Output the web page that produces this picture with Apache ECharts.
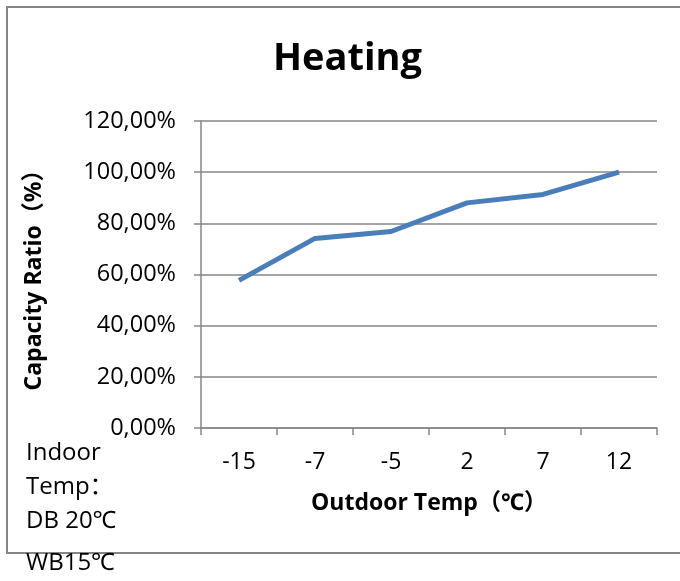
<!DOCTYPE html>
<html>
<head>
<meta charset="utf-8">
<script src="https://cdn.jsdelivr.net/npm/echarts@6/dist/echarts.min.js"></script>
<style>
  html, body { margin: 0; padding: 0; background: #fff; }
  #chart { width: 680px; height: 581px; }
</style>
</head>
<body>
<div id="chart"></div>
<script>
var categories = ['-15', '-7', '-5', '2', '7', '12'];
var capacityRatio = [0.577, 0.741, 0.768, 0.880, 0.913, 1.00];
var noteLines = ['Indoor', 'Temp\uFF1A', 'DB 20\u2103', 'WB15\u2103'];

var font = '"Open Sans", "Noto Sans", "Noto Sans CJK SC", sans-serif';
var grey = '#868686';
var ink = '#000';

var chart = echarts.init(document.getElementById('chart'), null, { renderer: 'canvas' });

function pctLabel(v) {
  return (v * 100).toFixed(2).replace('.', ',') + '%';
}

// left-hand note, each line placed by hand like the original text box
var noteY = [441, 475, 509, 551];
var graphics = [{
  type: 'rect',
  z: -1,
  shape: { x: 7, y: 7, width: 700, height: 546 },
  style: { fill: 'none', stroke: grey, lineWidth: 2 }
}];
noteLines.forEach(function(t, i) {
  graphics.push({
    type: 'text',
    left: 26,
    top: noteY[i],
    style: { text: t, font: '24px ' + font, fill: ink }
  });
});

chart.setOption({
  animation: false,
  textStyle: { fontFamily: font },
  title: {
    text: 'Heating',
    left: 268,
    top: 35,
    textStyle: { fontSize: 38, fontWeight: 'bold', color: ink, fontFamily: font }
  },
  grid: { left: 201, right: 23, top: 121, bottom: 153 },
  xAxis: {
    type: 'category',
    data: categories,
    boundaryGap: true,
    name: 'Outdoor Temp\uFF08\u2103\uFF09',
    nameLocation: 'middle',
    nameGap: 64,
    nameTextStyle: { fontSize: 23, fontWeight: 'bold', color: ink },
    axisLine: { lineStyle: { color: grey, width: 1.5 } },
    axisTick: { show: true, length: 7, lineStyle: { color: grey, width: 1.5 } },
    axisLabel: { fontSize: 23, color: ink, margin: 23 }
  },
  yAxis: {
    type: 'value',
    min: 0,
    max: 1.2,
    interval: 0.2,
    name: 'Capacity Ratio\uFF08%\uFF09',
    nameLocation: 'middle',
    nameGap: 155,
    nameTextStyle: { fontSize: 23, fontWeight: 'bold', color: ink },
    axisLine: { show: true, lineStyle: { color: grey, width: 1.5 } },
    axisTick: { show: true, length: 7, lineStyle: { color: grey, width: 1.5 } },
    axisLabel: { fontSize: 23.5, color: ink, margin: 25, formatter: pctLabel },
    splitLine: { lineStyle: { color: grey, width: 1.5 } }
  },
  series: [{
    type: 'line',
    data: capacityRatio,
    symbol: 'none',
    lineStyle: { color: '#4a7ebb', width: 5 }
  }],
  graphic: graphics
});
</script>
</body>
</html>
